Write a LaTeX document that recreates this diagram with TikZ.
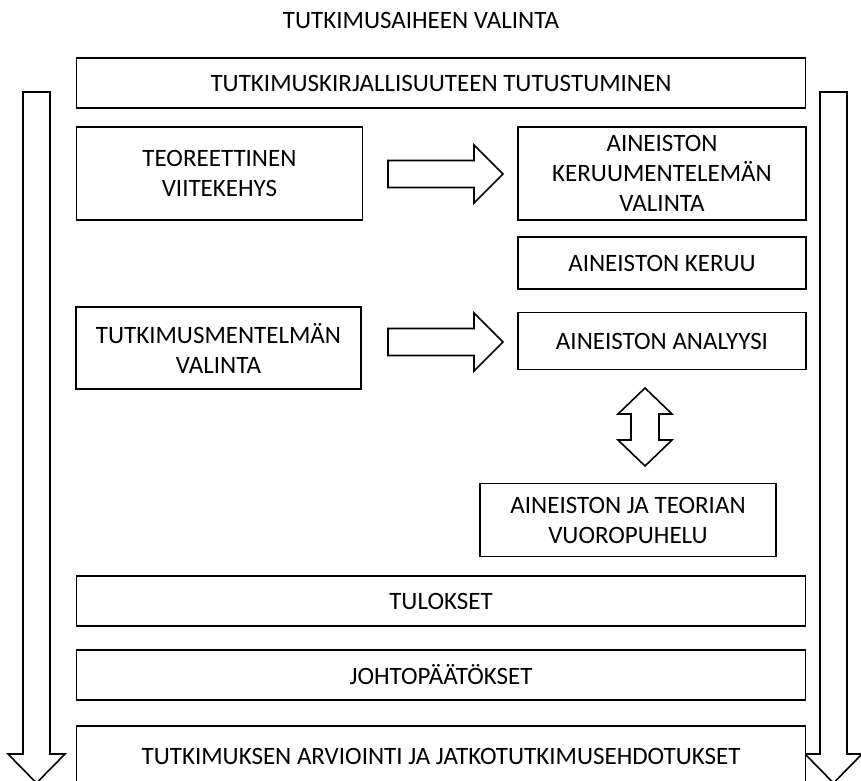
\documentclass[tikz,border=0pt]{standalone}
\usepackage{fontspec}
\setmainfont{Carlito}
\begin{document}
\begin{tikzpicture}[x=1pt, y=-1pt,
  box/.style={draw=black, line width=1.6pt, fill=white, align=center,
    inner sep=0pt, outer sep=0pt, font=\fontsize{25}{30}\selectfont},
  blockarrow/.style={draw=black, line width=1.6pt, fill=white, line join=miter},
  label/.style={font=\fontsize{25}{30}\selectfont, inner sep=0pt}]
\useasboundingbox (0,0) rectangle (861,780);

% title
\node[label] (title) at (421,20) {TUTKIMUSAIHEEN VALINTA};

% long arrows at the sides
\draw[blockarrow] (23,92) -- (50,92) -- (50,754) -- (65,754) -- (36.5,783)
  -- (8,754) -- (23,754) -- cycle;
\draw[blockarrow] (820,92) -- (847,92) -- (847,754) -- (862,754) -- (833.5,783)
  -- (805,754) -- (820,754) -- cycle;

% boxes (centre, width, height)
\node[box, minimum width=729, minimum height=50] (lit) at (441,83)
  {TUTKIMUSKIRJALLISUUTEEN TUTUSTUMINEN};
\node[box, minimum width=286, minimum height=93] (teo) at (219.5,173.5)
  {TEOREETTINEN\\VIITEKEHYS};
\node[box, minimum width=288, minimum height=93] (kmv) at (662,173.5)
  {AINEISTON\\KERUUMENTELEMÄN\\VALINTA};
\node[box, minimum width=288, minimum height=52] (keruu) at (662,263)
  {AINEISTON KERUU};
\node[box, minimum width=285, minimum height=82] (tmv) at (218.5,348)
  {TUTKIMUSMENTELMÄN\\VALINTA};
\node[box, minimum width=288, minimum height=57] (anal) at (662,341)
  {AINEISTON ANALYYSI};
\node[box, minimum width=296, minimum height=73] (vuoro) at (628,520)
  {AINEISTON JA TEORIAN\\VUOROPUHELU};
\node[box, minimum width=729, minimum height=50] (tul) at (441,601)
  {TULOKSET};
\node[box, minimum width=729, minimum height=50] (joh) at (441,675)
  {JOHTOPÄÄTÖKSET};
\node[box, minimum width=729, minimum height=70] (arv) at (441,761)
  {\raisebox{10pt}{TUTKIMUKSEN ARVIOINTI JA JATKOTUTKIMUSEHDOTUKSET}};

% block arrows between the boxes
\draw[blockarrow] (388,160.5) -- (474,160.5) -- (474,145) -- (503,174)
  -- (474,203) -- (474,187.5) -- (388,187.5) -- cycle;
\draw[blockarrow] (388,328.5) -- (474,328.5) -- (474,313) -- (503,342)
  -- (474,371) -- (474,355.5) -- (388,355.5) -- cycle;

% two-headed arrow between analysis and dialogue
\draw[blockarrow] (645,388) -- (672,414) -- (659,414) -- (659,440) -- (672,440)
  -- (645,466) -- (618,440) -- (631,440) -- (631,414) -- (618,414) -- cycle;
\end{tikzpicture}
\end{document}
